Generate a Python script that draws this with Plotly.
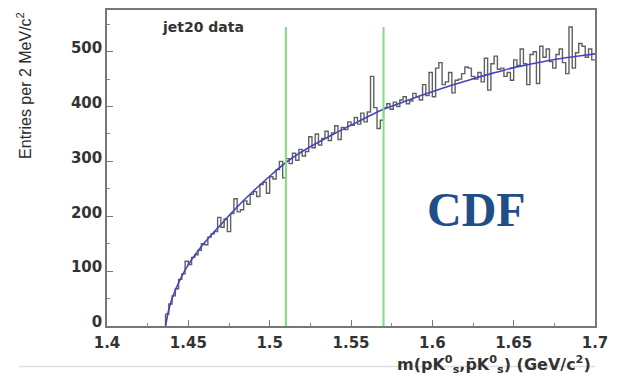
import numpy as np
import plotly.graph_objects as go

# ---- data ----
bin_start = 1.436
bin_width = 0.002
counts = [22, 40, 55, 68, 85, 95, 118, 112, 125, 130,
          138, 150, 148, 162, 168, 172, 198, 180, 195, 172,
          205, 232, 208, 212, 228, 222, 240, 245, 236, 258,
          262, 242, 272, 268, 285, 300, 270, 305, 296, 315,
          302, 322, 310, 318, 345, 325, 350, 330, 342, 355,
          338, 352, 365, 340, 362, 358, 372, 366, 380, 368,
          388, 372, 390, 455, 398, 360, 375, 398, 405, 395,
          408, 400, 412, 418, 405, 410, 424, 418, 412, 440,
          420, 462, 418, 470, 480, 440, 445, 462, 425, 448,
          450, 460, 472, 470, 455, 450, 462, 445, 488, 430,
          478, 492, 468, 470, 455, 462, 448, 485, 475, 505,
          478, 440, 495, 500, 442, 510, 490, 505, 482, 470,
          495, 505, 480, 460, 545, 470, 498, 515, 510, 490,
          505, 485]

fit_x = [1.436, 1.438, 1.44, 1.445, 1.45, 1.46, 1.47, 1.48, 1.49, 1.50, 1.51,
         1.52, 1.53, 1.54, 1.55, 1.56, 1.57, 1.58, 1.59, 1.60, 1.61,
         1.62, 1.63, 1.64, 1.65, 1.66, 1.67, 1.68, 1.69, 1.70]
fit_y = [0, 30, 50, 85, 112, 152, 185, 217, 246, 273, 298,
         318, 335, 351, 366, 381, 395, 406, 417, 427, 437,
         446, 455, 463, 471, 477, 483, 488, 492, 496]

signal_window = [1.51, 1.57]

x_ticks = [1.4, 1.45, 1.5, 1.55, 1.6, 1.65, 1.7]
x_tick_labels = ["1.4", "1.45", "1.5", "1.55", "1.6", "1.65", "1.7"]
y_ticks = [0, 100, 200, 300, 400, 500]

# ---- build figure ----
edges = bin_start + bin_width * np.arange(len(counts) + 1)
hx = list(edges)
hy = list(counts) + [counts[-1]]

fig = go.Figure()
fig.add_trace(go.Scatter(x=[bin_start, bin_start], y=[0, counts[0]], mode="lines",
                         line=dict(color="#606060", width=1.4), showlegend=False,
                         hoverinfo="skip"))
fig.add_trace(go.Scatter(x=hx, y=hy, mode="lines", line_shape="hv",
                         line=dict(color="#606060", width=1.4), showlegend=False))
fig.add_trace(go.Scatter(x=fit_x, y=fit_y, mode="lines", line_shape="spline",
                         line=dict(color="#4545c0", width=1.6), showlegend=False))

for xv in signal_window:
    fig.add_shape(type="line", x0=xv, x1=xv, y0=0, y1=545, xref="x", yref="y",
                  line=dict(color="#7ee07e", width=2))

fig.add_shape(type="line", xref="paper", yref="paper", x0=-0.18, x1=1.0,
              y0=-0.128, y1=-0.128, line=dict(color="#e0e0e0", width=1.5))

xtickfont = dict(family="DejaVu Sans", size=15, color="#333333", weight="bold")
ytickfont = dict(family="DejaVu Sans", size=15, color="#333333", weight="bold")
fig.update_xaxes(range=[1.4, 1.7], tickvals=x_ticks, ticktext=x_tick_labels,
                 showline=True, linecolor="#777777", linewidth=1.5, mirror=True,
                 ticks="inside", ticklen=6, tickcolor="#777777", ticklabelstandoff=2,
                 minor=dict(dtick=0.025, tick0=1.4, ticks="inside", ticklen=3, tickcolor="#888888"),
                 showgrid=False, zeroline=False, tickfont=xtickfont)
fig.update_yaxes(range=[0, 576], tickvals=y_ticks,
                 showline=True, linecolor="#777777", linewidth=1.5, mirror=True,
                 ticks="inside", ticklen=6, tickcolor="#777777", ticklabelshift=-4,
                 minor=dict(dtick=50, tick0=0, ticks="inside", ticklen=3, tickcolor="#888888"),
                 showgrid=False, zeroline=False, tickfont=ytickfont)

fig.add_annotation(text="<b>jet20 data</b>", xref="paper", yref="paper",
                   x=0.108, y=0.945, xanchor="left", yanchor="middle", showarrow=False,
                   font=dict(family="DejaVu Sans", size=14, color="#333333"))
fig.add_annotation(text="<b>CDF</b>", xref="paper", yref="paper",
                   x=0.757, y=0.37, xanchor="center", yanchor="middle", showarrow=False,
                   font=dict(family="Liberation Serif", size=48, color="#1f4e89"))
fig.add_annotation(text="Entries per 2 MeV/c<sup>2</sup>", xref="paper", yref="paper",
                   x=-0.17, y=0.76, xanchor="center", yanchor="middle", textangle=-90,
                   showarrow=False,
                   font=dict(family="Liberation Sans Narrow, Liberation Sans", size=16, color="#2a2a2a"))
fig.add_annotation(text="<b>m(pK<sup>0</sup><sub>s</sub>,p\u0304K<sup>0</sup><sub>s</sub>) (GeV/c<sup>2</sup>)</b>",
                   xref="paper", yref="paper", x=0.995, y=-0.078, xanchor="right", yanchor="top",
                   showarrow=False, font=dict(family="DejaVu Sans", size=16, color="#333333"))

fig.update_layout(width=644, height=376, margin=dict(l=107, r=49, t=8, b=50),
                  paper_bgcolor="white", plot_bgcolor="white", showlegend=False)

fig.write_html("out.html")
